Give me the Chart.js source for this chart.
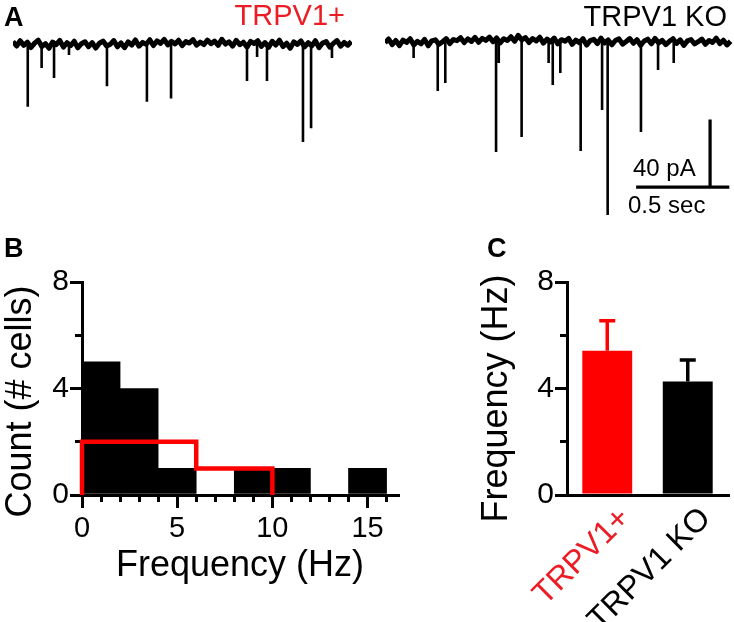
<!DOCTYPE html>
<html><head><meta charset="utf-8">
<script src="https://cdn.jsdelivr.net/npm/chart.js@4"></script>
<style>
html,body{margin:0;padding:0;background:#fff;}
#wrap{position:relative;width:734px;height:622px;overflow:hidden;font-family:"Liberation Sans",Arial,sans-serif;}
canvas{position:absolute;}
.lbl{position:absolute;white-space:nowrap;line-height:1;color:#000;}
</style></head><body>
<div id="wrap">
  <canvas id="traceL" style="left:13px;top:0px;width:339px;height:150px" width="339" height="150"></canvas>
  <canvas id="traceR" style="left:385px;top:0px;width:349px;height:230px" width="349" height="230"></canvas>
  <canvas id="hist" style="left:0px;top:250px;width:410px;height:372px" width="410" height="372"></canvas>
  <canvas id="bars" style="left:440px;top:250px;width:294px;height:372px" width="294" height="372"></canvas>
  <div class="lbl" style="left:4px;top:3.5px;font-size:27px;font-weight:bold">A</div>
  <div class="lbl" style="left:4px;top:234.5px;font-size:27px;font-weight:bold">B</div>
  <div class="lbl" style="left:487px;top:234.5px;font-size:27px;font-weight:bold">C</div>
  <div class="lbl" style="right:389px;top:0.5px;font-size:29px;color:#ec1c24">TRPV1+</div>
  <div class="lbl" style="right:7px;top:2px;font-size:29px">TRPV1 KO</div>
  <div class="lbl" style="left:633px;top:156px;font-size:24px">40 pA</div>
  <div class="lbl" style="left:628px;top:193px;font-size:24px">0.5 sec</div>
</div>
<script>
// ---------------- data ----------------
// Panel A: sample spacing of the baseline (s), baseline current (pA), events (s, pA)
const sampleDt = 0.02;
const leftBase = [1.5,-1.2,2.0,-0.8,1.1,-2.1,0.6,2.4,-1.5,0.3,-2.6,1.2,-0.4,2.2,-1.9,0.8,-1.0,1.7,-2.3,0.2,1.4,-1.6,0.9,-2.4,0.5,1.8,-1.1,-0.2,2.1,-1.7,0.7,-2.2,1.3,-0.6,2.5,-1.3,1.0,-0.1,2.6,-0.9,1.9,0.4,2.8,-0.5,1.6,0.1,2.3,-1.0,1.5,0.6,2.7,-0.7,1.2,-0.3,2.4,0.2,1.8,-0.8,2.9,0.0,1.4,-1.2,2.2,-0.4,1.1,-1.8,1.6,0.3,2.0,-1.4,0.9,-2.0,1.7,-0.6,2.3,-1.5,0.5,-2.5,1.3,-0.2,1.9,-1.7,0.8,-1.1,2.0,-2.2,0.6,1.5,-1.9,0.4,2.1,-1.3,1.0,-0.7,1.6];
const rightBase = [-0.5,1.8,-1.6,0.9,-2.2,1.1,-0.3,2.0,-1.8,0.4,-1.1,1.6,-2.3,0.7,1.3,-1.4,0.2,2.1,-1.0,1.5,0.8,2.6,-0.4,1.9,0.3,2.8,-0.2,2.2,1.0,3.0,0.1,2.5,-0.6,2.0,0.9,3.2,0.4,4.0,1.2,2.7,-0.3,2.1,0.6,2.9,-0.7,1.8,0.0,2.4,-1.2,1.4,0.5,2.2,-1.5,1.1,-0.4,2.0,-1.9,0.8,1.6,-1.0,2.3,-0.6,1.2,-1.7,0.9,1.9,-1.3,0.3,2.1,-0.8,1.4,-2.0,0.6,1.7,-1.1,2.2,-0.5,1.0,-1.6,0.4,2.0,-0.9,1.3,-2.1,0.7,1.5,-1.2,0.2,1.8,-1.4,0.9,-0.3,2.3,-1.0,1.1,-1.8,0.5];
const leftEventT   = [0.082,0.159,0.228,0.311,0.522,0.744,0.878,1.300,1.356,1.411,1.611,1.656,1.772];
const leftEventAmp = [-38,-14.5,-20.6,-6.7,-25.5,-35,-33,-22.4,-7.9,-22.4,-59.4,-51,-8.5];
const rightEventT   = [0.159,0.293,0.335,0.617,0.632,0.759,0.909,0.932,0.974,1.087,1.206,1.237,1.422,1.517,1.604];
const rightEventAmp = [-9.7,-29.7,-24.8,-66.7,-12.7,-57.6,-12.7,-26,-18.8,-66,-41.2,-104.8,-54.5,-17,-12.7];
const scaleBarSec = 0.5, scaleBarPA = 40;
const scaleBarStartT = 1.404, scaleBarLevel = -88, scaleBarVertT = 1.806;

// Panel B: histogram
const histEdges = [0,2,4,6,8,10,12,14,16];
const koCounts  = [5,4,1,0,1,1,0,1];
const posCounts = [2,2,2,1,1];
const histXMajor = [0,5,10,15];
const histXMinor = [1,2,3,4,6,7,8,9,11,12,13,14,16];
const countMinor = [2,6];

// Panel C: mean frequency +/- SEM
const groups = ['TRPV1+','TRPV1 KO'];
const meanFreq = [5.42, 4.26];
const semFreq  = [1.12, 0.81];
const freqMinor = [2,6];

// ---------------- helpers ----------------
const FONT = '"Liberation Sans", Arial, sans-serif';
const RED = '#ff0000', RED_TXT = '#ec1c24';
Chart.defaults.font.family = FONT;
Chart.defaults.color = '#000';

function baseSeries(vals){ return vals.map((v,i)=>({x:i*sampleDt, y:v})); }
function eventSeries(ts, amps){
  const out=[];
  ts.forEach((t,i)=>{ out.push({x:t,y:0},{x:t,y:amps[i]},{x:t,y:null}); });
  return out;
}
function traceChart(id, base, ts, amps, xmax, ymin, ymax, withBar){
  const ds = [
    {data:baseSeries(base), borderColor:'#000', borderWidth:5, pointRadius:0, tension:0, clip:false, borderJoinStyle:'round'},
    {data:eventSeries(ts, amps), borderColor:'#000', borderWidth:2.6, pointRadius:0, tension:0, spanGaps:false, clip:false}
  ];
  if(withBar){
    ds.push({data:[{x:scaleBarStartT,y:scaleBarLevel},{x:scaleBarStartT+scaleBarSec,y:scaleBarLevel},{x:null,y:null},
                   {x:scaleBarVertT,y:scaleBarLevel},{x:scaleBarVertT,y:scaleBarLevel+scaleBarPA}],
             borderColor:'#000', borderWidth:3.2, pointRadius:0, spanGaps:false, clip:false, borderCapStyle:'square'});
  }
  return new Chart(document.getElementById(id), {
    type:'line',
    data:{datasets:ds},
    options:{responsive:false, animation:false, devicePixelRatio:1,
      layout:{padding:0},
      plugins:{legend:{display:false}, tooltip:{enabled:false}},
      scales:{
        x:{type:'linear', display:false, min:0, max:xmax},
        y:{type:'linear', display:false, min:ymin, max:ymax}
      }}
  });
}

function makeExtras(cfg){
  return {
    id:'extras',
    afterDraw(chart){
      const ctx = chart.ctx, ca = chart.chartArea;
      ctx.save();
      if(cfg.errorBars){
        const eb = cfg.errorBars;
        const meta = chart.getDatasetMeta(0), ys = chart.scales.y;
        meta.data.forEach((bar,i)=>{
          const yTop = ys.getPixelForValue(eb.means[i] + eb.errs[i]);
          ctx.strokeStyle = eb.colors[i]; ctx.lineWidth = 3.5; ctx.lineCap = 'butt';
          ctx.beginPath();
          ctx.moveTo(bar.x, bar.y); ctx.lineTo(bar.x, yTop);
          ctx.moveTo(bar.x - eb.cap/2, yTop); ctx.lineTo(bar.x + eb.cap/2, yTop);
          ctx.stroke();
        });
      }
      if(cfg.yTitle){
        const t = cfg.yTitle;
        ctx.translate(ca.left + t.dx, (ca.top + ca.bottom)/2 + t.dy);
        ctx.rotate(-Math.PI/2);
        ctx.font = t.size + 'px ' + FONT;
        ctx.fillStyle = '#000'; ctx.textAlign = 'center'; ctx.textBaseline = 'middle';
        ctx.fillText(t.text, 0, 0);
      }
      ctx.restore();
    }
  };
}

const gridCommon = (tickLen)=>({drawOnChartArea:false, drawTicks:tickLen>0, tickLength:tickLen, tickWidth:3, tickColor:'#000', color:'#000', lineWidth:3});
const borderCommon = {display:true, width:3, color:'#000'};
// axis that only carries short (minor) tick marks, anchored on the other axis
function minorAxis(axis, anchor, min, max, values){
  return {type:'linear', axis:axis, position:anchor, min:min, max:max, offset:false,
    afterBuildTicks(s){ s.ticks = values.map(v=>({value:v})); },
    grid:{display:true, drawOnChartArea:false, drawTicks:true, tickLength:7, tickWidth:3, tickColor:'#000', offset:false},
    border:{display:false}, ticks:{display:false}, title:{display:false}};
}

// ---------------- Panel A ----------------
traceChart('traceL', leftBase, leftEventT, leftEventAmp, 339/180, -64.2, 26.7, false);
traceChart('traceR', rightBase, rightEventT, rightEventAmp, 349/180, -113.94, 25.45, true);

// ---------------- Panel B ----------------
const koData = koCounts.map((c,i)=>({x:(histEdges[i]+histEdges[i+1])/2, y:c}));
const posStep = [{x:histEdges[0], y:0}];
posCounts.forEach((c,i)=>{ posStep.push({x:histEdges[i],y:c},{x:histEdges[i+1],y:c}); });
posStep.push({x:histEdges[posCounts.length], y:0});

new Chart(document.getElementById('hist'), {
  type:'bar',
  data:{datasets:[
    {type:'line', label:'TRPV1+', data:posStep, borderColor:RED, borderWidth:4.5, pointRadius:0, tension:0,
     borderJoinStyle:'miter', borderCapStyle:'butt', order:0, clip:false, xAxisID:'x', yAxisID:'y'},
    {type:'bar', label:'TRPV1 KO', data:koData, backgroundColor:'#000', borderWidth:0,
     barPercentage:1, categoryPercentage:1, order:1, xAxisID:'x', yAxisID:'y'}
  ]},
  options:{responsive:false, animation:false, devicePixelRatio:1,
    layout:{padding:{top:32, right:12, left:0, bottom:0}},
    plugins:{legend:{display:false}, tooltip:{enabled:false}},
    scales:{
      x:{type:'linear', position:'bottom', min:0, max:16.6, offset:false,
        grid:Object.assign(gridCommon(13), {offset:false}), border:borderCommon,
        afterBuildTicks(s){ s.ticks = histXMajor.map(v=>({value:v})); },
        ticks:{autoSkip:false, maxRotation:0, padding:4, color:'#000', font:{size:29}},
        title:{display:true, text:'Frequency (Hz)', color:'#000', font:{size:36}, padding:{top:0,bottom:34}},
        afterFit(s){ s.height = 127; }},
      y:{type:'linear', position:'left', min:0, max:8, grid:gridCommon(12), border:borderCommon,
        ticks:{stepSize:4, padding:1, color:'#000', font:{size:30}},
        afterFit(s){ s.width = 82; }},
      xMinor:minorAxis('x', {y:0}, 0, 16.6, histXMinor),
      yMinor:minorAxis('y', {x:0}, 0, 8, countMinor)
    }},
  plugins:[makeExtras({
    yTitle:{text:'Count (# cells)', size:36, dx:-61, dy:13}
  })]
});

// ---------------- Panel C ----------------
const barColors = [RED, '#000'];
const labelColors = [RED_TXT, '#000'];
new Chart(document.getElementById('bars'), {
  type:'bar',
  data:{labels:groups, datasets:[{data:meanFreq, backgroundColor:barColors, borderWidth:0,
    barPercentage:0.62, categoryPercentage:1, xAxisID:'x', yAxisID:'y'}]},
  options:{responsive:false, animation:false, devicePixelRatio:1,
    layout:{padding:{top:32, right:6, left:0, bottom:0}},
    plugins:{legend:{display:false}, tooltip:{enabled:false}},
    scales:{
      x:{type:'category', position:'bottom', offset:true, grid:gridCommon(0), border:borderCommon,
        ticks:{autoSkip:false, minRotation:45, maxRotation:45, padding:5, labelOffset:18, font:{size:32},
          color:(c)=>labelColors[c.index]},
        afterFit(s){ s.height = 127; }},
      y:{type:'linear', position:'left', min:0, max:8, grid:gridCommon(12), border:borderCommon,
        ticks:{stepSize:4, padding:1, color:'#000', font:{size:30}},
        afterFit(s){ s.width = 127; }},
      yMinor:minorAxis('y', {x:-0.5}, 0, 8, freqMinor)
    }},
  plugins:[makeExtras({
    errorBars:{means:meanFreq, errs:semFreq, colors:barColors, cap:16},
    yTitle:{text:'Frequency (Hz)', size:36, dx:-70, dy:10}
  })]
});
</script>
</body></html>
